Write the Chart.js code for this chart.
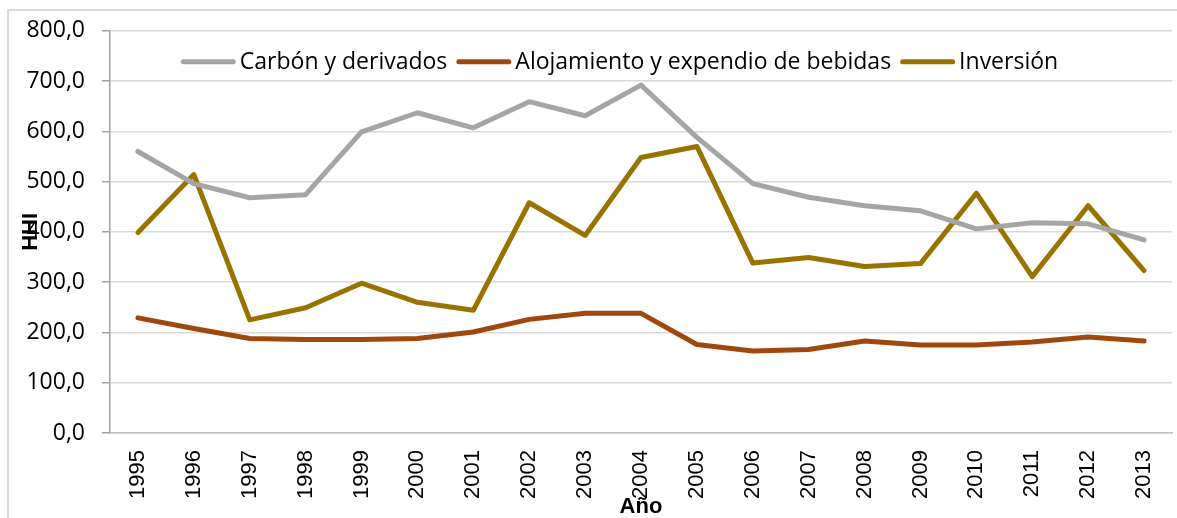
<!DOCTYPE html>
<html><head><meta charset="utf-8">
<script src="https://cdn.jsdelivr.net/npm/chart.js@4/dist/chart.umd.min.js"></script>
<style>
html,body{margin:0;padding:0;background:#fff;overflow:hidden;}
#frame{position:absolute;left:7px;top:9px;width:1200px;height:600px;border:2px solid #d9d9d9;box-sizing:border-box;}
#c{position:absolute;left:0;top:0;}
</style></head><body>
<div id="frame"></div>
<canvas id="c" width="1177" height="518"></canvas>
<script>
const years = ['1995','1996','1997','1998','1999','2000','2001','2002','2003','2004','2005','2006','2007','2008','2009','2010','2011','2012','2013'];
const carbon = [560, 496, 468, 474, 599, 637, 607, 659, 631, 692, 588, 496, 469, 452, 442, 406, 418, 416, 384];
const alojamiento = [229, 208, 188, 186, 186, 188, 201, 226, 238, 238, 176, 163, 166, 183, 175, 175, 181, 191, 183];
const inversion = [399, 514, 225, 249, 298, 260, 244, 458, 393, 548, 570, 338, 349, 331, 337, 477, 311, 452, 323];
const seriesNames = ['Carbón y derivados', 'Alojamiento y expendio de bebidas', 'Inversión'];
const yTicks = { min: 0, max: 800, step: 100 };
const xTitle = 'Año';
const yTitle = 'HHI';

const colors = ['#A5A5A5', '#9E480E', '#997300'];
const mk = (label, data, color) => ({
  label, data, borderColor: color, backgroundColor: color, borderWidth: 5,
  pointRadius: 0, pointHoverRadius: 0, tension: 0,
  borderCapStyle: 'round', borderJoinStyle: 'round'
});

// Legend drawn inside the plot area, in one row (as in the reference)
const inlineLegend = {
  id: 'inlineLegend',
  afterDatasetsDraw(chart) {
    const ctx = chart.ctx, area = chart.chartArea;
    ctx.save();
    ctx.font = '23px "Open Sans"';
    const lineLen = 55, gap = 4, spacing = 9;
    const items = chart.data.datasets.map(ds => ({
      text: ds.label, color: ds.borderColor,
      w: lineLen + gap + ctx.measureText(ds.label).width
    }));
    const total = items.reduce((s, i) => s + i.w, 0) + spacing * (items.length - 1);
    let x = (area.left + area.right) / 2 - 21.5 - total / 2;
    const y = area.top + 31;
    items.forEach(it => {
      ctx.strokeStyle = it.color; ctx.lineWidth = 5; ctx.lineCap = 'round';
      ctx.beginPath(); ctx.moveTo(x + 2.5, y); ctx.lineTo(x + lineLen - 2.5, y); ctx.stroke();
      ctx.fillStyle = '#000'; ctx.textBaseline = 'middle'; ctx.textAlign = 'left';
      ctx.fillText(it.text, x + lineLen + gap, y + 1);
      x += it.w + spacing;
    });
    ctx.restore();
  }
};

new Chart(document.getElementById('c'), {
  type: 'line',
  data: {
    labels: years,
    datasets: [
      mk(seriesNames[0], carbon, colors[0]),
      mk(seriesNames[1], alojamiento, colors[1]),
      mk(seriesNames[2], inversion, colors[2])
    ]
  },
  plugins: [inlineLegend],
  options: {
    responsive: false,
    animation: false,
    devicePixelRatio: 1,
    layout: { padding: { left: 0, right: 5, top: 30, bottom: 0 } },
    plugins: {
      tooltip: { enabled: false },
      legend: { display: false }
    },
    scales: {
      x: {
        offset: true,
        grid: { display: false, drawTicks: false },
        border: { display: true, color: '#bfbfbf', width: 1.5 },
        ticks: {
          autoSkip: false, minRotation: 90, maxRotation: 90, padding: 17,
          color: '#000', font: { family: 'Liberation Sans', size: 22 }
        },
        title: {
          display: true, text: xTitle, color: '#000',
          font: { family: 'Liberation Sans', size: 22, weight: 'bold', lineHeight: 1 },
          padding: { top: 0, bottom: 0 }
        },
        afterFit(scale) { scale.height = 85; scale.paddingRight = 0; scale.paddingLeft = 0; }
      },
      y: {
        min: yTicks.min, max: yTicks.max,
        grid: { color: '#d9d9d9', lineWidth: 1.5, tickLength: 8, tickColor: '#a0a0a0' },
        border: { display: true, color: '#a0a0a0', width: 1.5 },
        ticks: {
          stepSize: yTicks.step, padding: 17, color: '#000',
          font: { family: 'Open Sans', size: 23 },
          callback: v => v.toFixed(1).replace('.', ',')
        },
        title: {
          display: true, text: yTitle, color: '#000',
          font: { family: 'Liberation Sans', size: 22, weight: 'bold', lineHeight: 1.2 },
          padding: { top: 18, bottom: 0 }
        },
        afterFit(scale) { scale.width = 110; }
      }
    }
  }
});
</script>
</body></html>
